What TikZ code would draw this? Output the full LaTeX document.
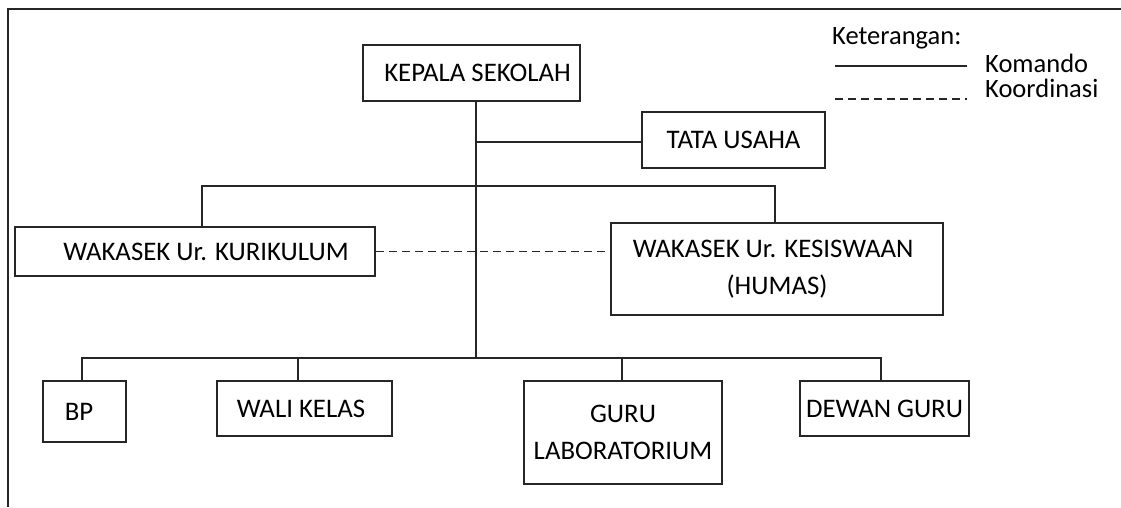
\documentclass[tikz,border=0pt]{standalone}
\usepackage{fontspec}
\setmainfont{Carlito}
\begin{document}
\begin{tikzpicture}[x=1pt,y=-1pt,
  box/.style={draw=black!85, line width=1.5pt, inner sep=0pt, align=center, font=\fontsize{26.8}{36.5}\selectfont},
  conn/.style={draw=black!85, line width=1.3pt},
  coord/.style={conn, dash pattern=on 8pt off 5pt},
  lbl/.style={inner sep=0pt, anchor=base west, font=\fontsize{26.5}{30}\selectfont}]
\useasboundingbox (0,0) rectangle (1121,507);
% frame
\draw[line width=1.6pt, black!85] (8,507) -- (8,9) -- (1121,9);
% boxes
\node[box, minimum width=217, minimum height=56] (kepala) at (471.5,73) {\hspace*{12pt}KEPALA SEKOLAH};
\node[box, minimum width=183, minimum height=56] (tata) at (733.5,140) {TATA USAHA};
\node[box, minimum width=360, minimum height=49] (kuri) at (195,251.5) {\hspace*{22pt}WAKASEK Ur. KURIKULUM};
\node[box, minimum width=332, minimum height=92] (kesis) at (777,269) {WAKASEK Ur. KESISWAAN\hspace*{8pt}\\(HUMAS)};
\node[box, minimum width=83, minimum height=61] (bp) at (84.5,411.5) {BP\hspace*{11pt}};
\node[box, minimum width=175, minimum height=55] (wali) at (304.5,408.5) {WALI KELAS\hspace*{7pt}};
\node[box, minimum width=198, minimum height=103] (guru) at (623,432.5) {GURU\\LABORATORIUM};
\node[box, minimum width=169, minimum height=55] (dewan) at (884.5,408.5) {DEWAN GURU};
% junctions
\coordinate (j1) at (476,142);
\coordinate (j2) at (476,186);
\coordinate (j3) at (476,358);
% connectors
\draw[conn] (kepala.south -| j1) -- (j3);
\draw[conn] (j1) -- (j1 -| tata.west);
\draw[conn] ([xshift=7pt]kuri.north) |- (j2) -| ([xshift=-2pt]kesis.north);
\draw[conn] ([xshift=-2.5pt]bp.north) |- (j3) -| ([xshift=-3.5pt]dewan.north);
\draw[conn] ([xshift=-6.5pt]wali.north) -- ([xshift=-6.5pt]wali.north |- j3);
\draw[conn] ([xshift=-1pt]guru.north) -- ([xshift=-1pt]guru.north |- j3);
\draw[coord] (kuri.east) -- (kuri.east -| kesis.west);
% legend
\node[lbl] (ket) at (832,44) {Keterangan:};
\coordinate (s1) at (835,66);
\coordinate (s2) at (967,66);
\coordinate (d1) at (835,99);
\coordinate (d2) at (967,99);
\draw[conn] (s1) -- (s2);
\draw[coord] (d1) -- (d2);
\node[lbl] (kom) at (985,72) {Komando};
\node[lbl] (koo) at (985,97) {Koordinasi};
\end{tikzpicture}
\end{document}
